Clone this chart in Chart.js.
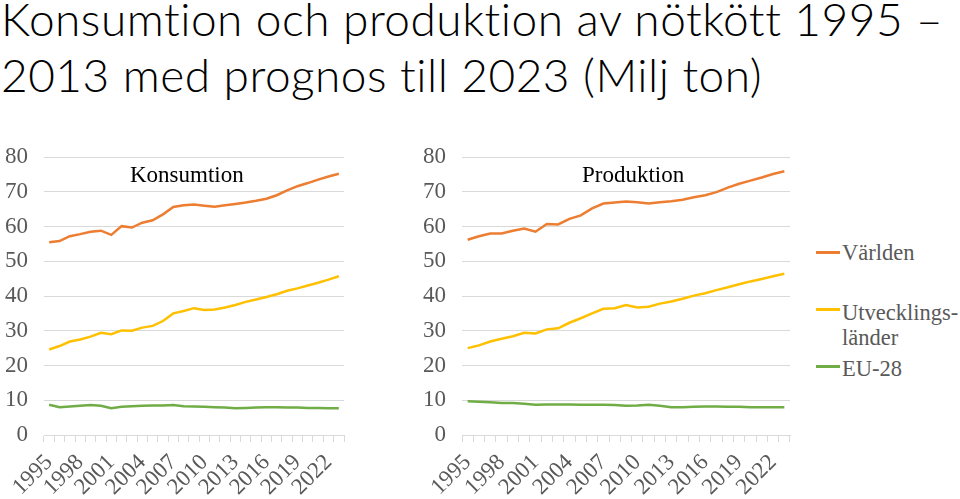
<!DOCTYPE html>
<html>
<head>
<meta charset="utf-8">
<script src="https://cdn.jsdelivr.net/npm/chart.js@4.4.1/dist/chart.umd.min.js"></script>
<style>
body{margin:0;background:#fff;width:960px;height:499px;overflow:hidden;position:relative;}
#title{position:absolute;left:1px;top:-9px;font-family:Lato,"Open Sans",sans-serif;font-weight:300;font-size:46px;letter-spacing:0.5px;line-height:56px;color:#000;white-space:nowrap;}
.ptitle{position:absolute;top:162px;font-family:"Liberation Serif",serif;font-size:23px;line-height:26px;color:#000;}
canvas{position:absolute;}
.leg{position:absolute;left:842px;font-family:"Liberation Serif",serif;font-size:22.5px;color:#595959;line-height:25px;}
.sw{position:absolute;left:816px;width:24px;height:2.5px;}
</style>
</head>
<body>
<div id="title">Konsumtion och produktion av nötkött 1995 –<br>2013 med prognos till 2023 (Milj ton)</div>
<canvas id="c1" width="350" height="359" style="left:0;top:140px"></canvas>
<canvas id="c2" width="400" height="359" style="left:400px;top:140px"></canvas>
<div class="ptitle" style="left:130px">Konsumtion</div>
<div class="ptitle" style="left:582px">Produktion</div>
<div class="sw" style="top:251px;background:#ed7d31"></div>
<div class="leg" style="top:240px">Världen</div>
<div class="sw" style="top:308px;background:#ffc000"></div>
<div class="leg" style="top:300px">Utvecklings-<br>länder</div>
<div class="sw" style="top:365px;background:#70ad47"></div>
<div class="leg" style="top:356px">EU-28</div>
<script>
let years=[];
for(let y=1995;y<=2023;y++) years.push(String(y));

// Konsumtion
let konsVarlden=[55.5,55.8,57.2,57.8,58.5,58.8,57.6,60.1,59.7,61.1,61.8,63.5,65.6,66.1,66.3,66.0,65.7,66.1,66.5,66.9,67.4,68.0,69.0,70.4,71.6,72.5,73.5,74.4,75.2];
let konsUtv=[24.6,25.6,26.9,27.5,28.3,29.4,29.0,30.1,30.0,30.9,31.4,32.8,35.0,35.7,36.5,36.0,36.1,36.7,37.4,38.3,39.0,39.7,40.5,41.5,42.2,43.0,43.8,44.7,45.7];
let konsEU=[8.7,8.0,8.2,8.4,8.6,8.4,7.7,8.1,8.3,8.4,8.5,8.5,8.6,8.3,8.2,8.1,8.0,7.9,7.7,7.8,7.9,8.0,8.0,7.9,7.9,7.8,7.8,7.7,7.7];

// Produktion
let prodVarlden=[56.2,57.2,58.0,58.0,58.8,59.4,58.5,60.7,60.6,62.2,63.2,65.2,66.6,66.9,67.2,67.0,66.6,67.0,67.3,67.7,68.4,69.0,69.9,71.2,72.3,73.2,74.1,75.1,75.9];
let prodUtv=[25.0,25.8,26.9,27.7,28.4,29.4,29.2,30.4,30.7,32.3,33.6,35.0,36.3,36.5,37.4,36.7,36.9,37.8,38.4,39.2,40.1,40.8,41.7,42.5,43.4,44.2,44.9,45.7,46.4];
let prodEU=[9.7,9.6,9.4,9.2,9.2,9.0,8.7,8.8,8.8,8.8,8.7,8.7,8.7,8.6,8.4,8.5,8.7,8.4,8.0,8.0,8.1,8.2,8.2,8.1,8.1,8.0,8.0,8.0,8.0];

let yTicks=[0,10,20,30,40,50,60,70,80];

Chart.defaults.font.family="'Liberation Serif', serif";
Chart.defaults.font.size=23;
Chart.defaults.color='#595959';

// keep the plot area where the layout padding puts it
function noPad(s){s.paddingTop=0;s.paddingBottom=0;s.paddingLeft=0;s.paddingRight=0;}

function makeChart(id,yWidth,padRight,d1,d2,d3){
    let ctx=document.getElementById(id).getContext('2d');
    let ds=(data,color)=>({data:data,borderColor:color,borderWidth:2.5,pointRadius:0,tension:0,fill:false});
    return new Chart(ctx,{
        type:'line',
        data:{labels:years,datasets:[ds(d1,'#ed7d31'),ds(d2,'#ffc000'),ds(d3,'#70ad47')]},
        options:{
            responsive:false,animation:false,
            layout:{padding:{top:17,right:padRight,left:0,bottom:0}},
            plugins:{legend:{display:false},tooltip:{enabled:false}},
            scales:{
                x:{
                    offset:true,
                    grid:{offset:true,drawOnChartArea:false,drawTicks:true,tickLength:7,color:'#d9d9d9'},
                    border:{color:'#d9d9d9'},
                    ticks:{autoSkip:false,maxRotation:45,minRotation:45,padding:7,
                        callback:function(v,i){return i%3===0?years[i]:'';}},
                    afterFit:s=>{s.height=64;noPad(s);}
                },
                y:{
                    min:0,max:80,
                    grid:{color:'#d9d9d9',drawTicks:false},
                    border:{display:false},
                    afterBuildTicks:s=>{s.ticks=yTicks.map(v=>({value:v}));},
                    ticks:{padding:16},
                    afterFit:s=>{s.width=yWidth;noPad(s);}
                }
            }
        }
    });
}

makeChart('c1',44,6,konsVarlden,konsUtv,konsEU);
makeChart('c2',62,10,prodVarlden,prodUtv,prodEU);
</script>
</body>
</html>
